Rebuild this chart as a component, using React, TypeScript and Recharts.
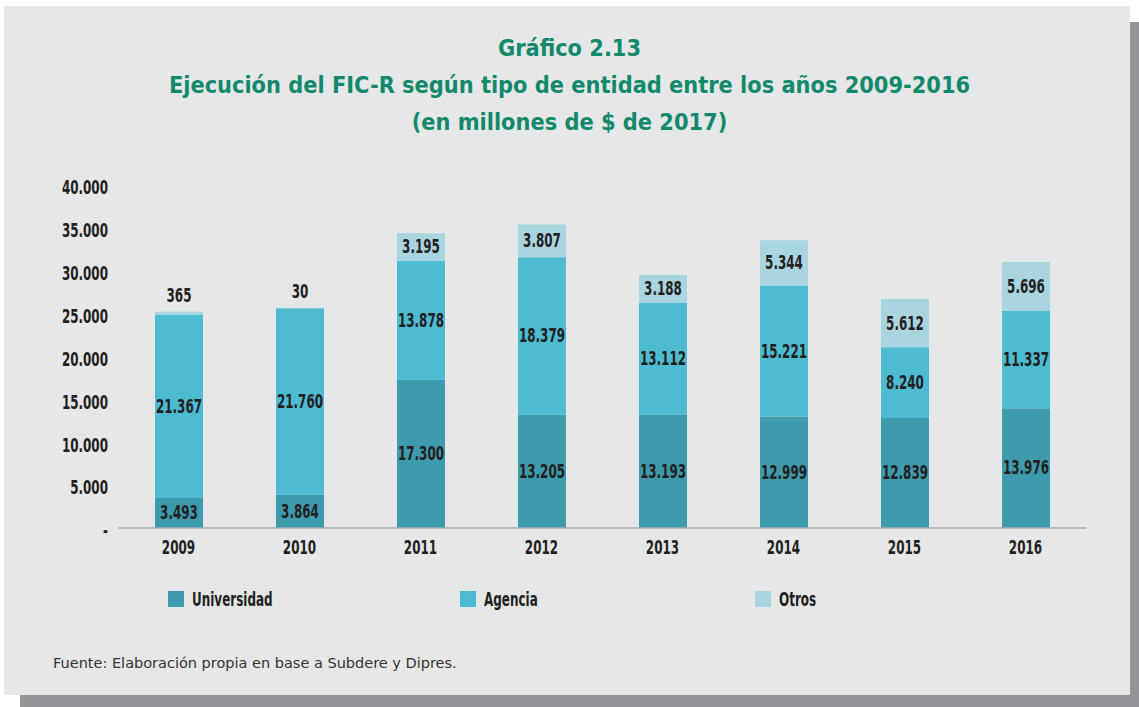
import React from "react";
import { BarChart, Bar, XAxis, YAxis, LabelList } from "recharts";

const years = ["2009", "2010", "2011", "2012", "2013", "2014", "2015", "2016"];
const universidad = [3493, 3864, 17300, 13205, 13193, 12999, 12839, 13976];
const agencia = [21367, 21760, 13878, 18379, 13112, 15221, 8240, 11337];
const otros = [365, 30, 3195, 3807, 3188, 5344, 5612, 5696];
const yTicks = [0, 5000, 10000, 15000, 20000, 25000, 30000, 35000, 40000];

const series = [
  { key: "universidad", name: "Universidad", color: "#3d9bad" },
  { key: "agencia", name: "Agencia", color: "#4dbbd1" },
  { key: "otros", name: "Otros", color: "#a9d5e0" },
];

const data = years.map((year, i) => ({
  year,
  universidad: universidad[i],
  agencia: agencia[i],
  otros: otros[i],
}));

// no condensed DIN here, so squeeze DejaVu Sans Condensed horizontally
const narrow = "'DejaVu Sans Condensed', 'DejaVu Sans', sans-serif";
const squeeze = 0.7;
const ink = "#231f20";

const fmt = (v: number) =>
  v === 0 ? "-" : String(v).replace(/\B(?=(\d{3})+(?!\d))/g, ".");

function NarrowText({ x, y, anchor = "middle", size = 19, children }: any) {
  return (
    <text
      transform={`translate(${x},${y}) scale(${squeeze},1)`}
      textAnchor={anchor}
      dominantBaseline="central"
      fontFamily={narrow}
      fontWeight="bold"
      fontSize={size}
      fill={ink}
    >
      {children}
    </text>
  );
}

function SegmentLabel(props: any) {
  const { x, y, width, height, value } = props;
  const cy = height < 20 ? y - 16 : y + height / 2;
  return (
    <NarrowText x={x + width / 2} y={cy}>
      {fmt(value)}
    </NarrowText>
  );
}

function YearTick(props: any) {
  const { x, y, payload } = props;
  return (
    <NarrowText x={x} y={y + 10}>
      {payload.value}
    </NarrowText>
  );
}

function ValueTick(props: any) {
  const { x, y, payload } = props;
  return (
    <NarrowText x={x} y={y + 3} anchor="end">
      {fmt(payload.value)}
    </NarrowText>
  );
}

const legendX = [168, 460, 755];

export default function App() {
  return (
    <div
      style={{
        position: "absolute",
        left: 0,
        top: 0,
        width: 1139,
        height: 707,
        background: "#ffffff",
        overflow: "hidden",
      }}
    >
      <div
        style={{
          position: "absolute",
          left: 20,
          top: 22,
          width: 1119,
          height: 685,
          background: "#939598",
        }}
      />
      <div
        style={{
          position: "absolute",
          left: 4,
          top: 6,
          width: 1126,
          height: 689,
          background: "#e6e7e8",
        }}
      />
      <div
        style={{
          position: "absolute",
          left: 0,
          top: 29,
          width: 1139,
          textAlign: "center",
          color: "#12896c",
          fontFamily: "'DejaVu Sans Condensed', 'DejaVu Sans', sans-serif",
          fontWeight: "bold",
          fontSize: 23.3,
          lineHeight: "37px",
        }}
      >
        <div>Gráfico 2.13</div>
        <div>Ejecución del FIC-R según tipo de entidad entre los años 2009-2016</div>
        <div>(en millones de $ de 2017)</div>
      </div>

      <div style={{ position: "absolute", left: 0, top: 0 }}>
        <BarChart
          width={1139}
          height={560}
          data={data}
          margin={{ top: 185, right: 53, left: 58, bottom: 2 }}
          barSize={48}
        >
          <XAxis
            dataKey="year"
            height={30}
            tickLine={false}
            axisLine={{ stroke: "#a7a9ac", strokeWidth: 1.5 }}
            tickMargin={4}
            tick={<YearTick />}
          />
          <YAxis
            width={60}
            domain={[0, 40000]}
            ticks={yTicks}
            axisLine={false}
            tickLine={false}
            tickMargin={4}
            tick={<ValueTick />}
          />
          {series.map((s) => (
            <Bar
              key={s.key}
              dataKey={s.key}
              name={s.name}
              stackId="a"
              fill={s.color}
              isAnimationActive={false}
            >
              <LabelList dataKey={s.key} content={SegmentLabel} />
            </Bar>
          ))}
        </BarChart>
      </div>

      {series.map((s, i) => (
        <div
          key={s.key}
          style={{
            position: "absolute",
            left: legendX[i],
            top: 591,
            height: 16,
            display: "flex",
            alignItems: "center",
            whiteSpace: "nowrap",
            fontFamily: narrow,
            fontWeight: "bold",
            fontSize: 19,
            color: ink,
          }}
        >
          <span
            style={{
              display: "inline-block",
              width: 16,
              height: 16,
              background: s.color,
              marginRight: 8,
            }}
          />
          <span
            style={{
              display: "inline-block",
              transform: `scaleX(${squeeze})`,
              transformOrigin: "left center",
            }}
          >
            {s.name}
          </span>
        </div>
      ))}

      <div
        style={{
          position: "absolute",
          left: 53,
          top: 655,
          fontFamily: "'DejaVu Sans', Verdana, sans-serif",
          fontSize: 14.5,
          color: "#333333",
        }}
      >
        Fuente: Elaboración propia en base a Subdere y Dipres.
      </div>
    </div>
  );
}
